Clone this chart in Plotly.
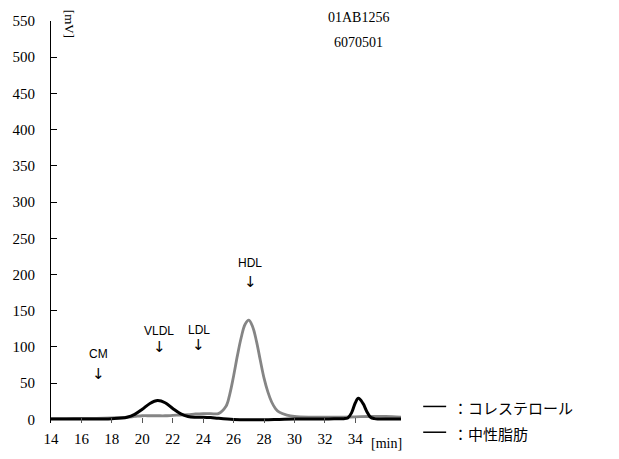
import plotly.graph_objects as go

# Elution time [min] and detector response [mV]
chol_time = [14, 15, 16, 17, 18, 19, 19.5, 20, 20.5, 21, 21.5, 22, 22.5, 23, 23.5, 24, 24.5,
             25, 25.5, 25.75, 26, 26.25, 26.5, 26.75, 27, 27.25, 27.5, 27.75, 28, 28.25,
             28.5, 28.75, 29, 29.5, 30, 31, 32, 33, 34, 35, 36, 37]
chol_mv = [1, 1, 1.5, 1.5, 2, 3, 4, 5, 5, 5, 5, 5.5, 6, 6.5, 7.5, 8, 8,
           8, 18, 35, 60, 88, 113, 131, 137, 128, 108, 82, 57, 38,
           24, 15, 10, 6, 4, 3, 3, 3, 3.5, 4, 4, 3]

tg_time = [14, 16, 18, 19, 19.5, 20, 20.5, 21, 21.5, 22, 22.5, 23, 23.5, 24, 24.5, 25,
           26, 27, 28, 29, 30, 31, 32, 33, 33.25, 33.5, 33.75, 34, 34.2, 34.5, 34.75,
           35, 35.25, 35.5, 36, 37]
tg_mv = [0.5, 0.5, 1, 3, 7, 14, 22, 26, 23, 15, 8, 4, 3, 3, 2.5, 1.5,
         0, -0.5, -0.5, 0, 0.5, 0.5, 0.5, 1, 1, 2, 9, 23, 29, 22, 11,
         3, 1, 0.5, 0.5, 0.5]

x_ticks = [14, 16, 18, 20, 22, 24, 26, 28, 30, 32, 34]
y_ticks = [0, 50, 100, 150, 200, 250, 300, 350, 400, 450, 500, 550]

# Fraction labels: name, time position, label level, arrow level
fractions = ["CM", "VLDL", "LDL", "HDL"]
frac_time = [17.1, 21.1, 23.7, 27.1]
frac_label_mv = [90, 122, 124, 216]
frac_arrow_mv = [62, 100, 103, 190]

sample_ids = ["01AB1256", "6070501"]
legend_names = ["コレステロール", "中性脂肪"]

serif = "Liberation Serif"
sans = "Liberation Sans"
cjk = "Noto Sans CJK JP"

fig = go.Figure()
fig.add_trace(go.Scatter(x=chol_time, y=chol_mv, mode="lines", line_shape="spline",
                         line=dict(color="#858585", width=2.8), name=legend_names[0]))
fig.add_trace(go.Scatter(x=tg_time, y=tg_mv, mode="lines", line_shape="spline",
                         line=dict(color="black", width=3), name=legend_names[1]))

ann = []
for name, t, ly, ay in zip(fractions, frac_time, frac_label_mv, frac_arrow_mv):
    ann.append(dict(x=t, y=ly, xref="x", yref="y", text=name, showarrow=False,
                    xanchor="center", yanchor="middle",
                    font=dict(family=sans, size=12, color="black")))
    ann.append(dict(x=t, y=ay, xref="x", yref="y", text="↓", showarrow=False,
                    xanchor="center", yanchor="middle",
                    font=dict(family="DejaVu Sans", size=15, color="black")))

W, H = 619, 459
L, R, T, B = 50, 218.25, 21.2, 32.3
pw, ph = W - L - R, H - T - B


def px(xp, yp):
    return (xp - L) / pw, 1 - (yp - T) / ph


# text placed by page position: text, x, y, font, size, angle, horizontal anchor
placed = [
    (sample_ids[0], 358, 18, serif, 14, 0, "center"),
    (sample_ids[1], 358, 43, serif, 14, 0, "center"),
    ("[mV]", 68, 24, serif, 13, 90, "center"),
    ("[min]", 386, 447, serif, 14, 0, "center"),
    ("：" + legend_names[0], 451, 411, cjk, 15, 0, "left"),
    ("：" + legend_names[1], 451, 437, cjk, 15, 0, "left"),
]
for text, xp, yp, fam, sz, ang, xa in placed:
    xx, yy = px(xp, yp)
    ann.append(dict(x=xx, y=yy, xref="paper", yref="paper", text=text, showarrow=False,
                    xanchor=xa, yanchor="middle", textangle=ang,
                    font=dict(family=fam, size=sz, color="black")))

# legend key dashes
shapes = []
for yp in (410, 436):
    x0, y0 = px(423, yp)
    x1, _ = px(446, yp)
    shapes.append(dict(type="line", xref="paper", yref="paper", x0=x0, x1=x1, y0=y0, y1=y0,
                       line=dict(color="black", width=1.5)))

fig.update_layout(
    width=W, height=H,
    margin=dict(l=L, r=R, t=T, b=B, pad=0),
    paper_bgcolor="white", plot_bgcolor="white",
    showlegend=False,
    annotations=ann,
    shapes=shapes,
    xaxis=dict(range=[14, 37], tickvals=x_ticks, ticks="inside", ticklen=5,
               tickcolor="#555", showgrid=False, zeroline=False, showline=False,
               tickfont=dict(family=serif, size=15, color="black"), ticklabelstandoff=5),
    yaxis=dict(range=[-5, 550], tickvals=y_ticks, ticks="inside", ticklen=6,
               tickcolor="black", showgrid=False, zeroline=False, showline=True,
               linecolor="black", linewidth=1,
               tickfont=dict(family=serif, size=15, color="black"), ticklabelstandoff=12),
)

fig.write_html("out.html")
